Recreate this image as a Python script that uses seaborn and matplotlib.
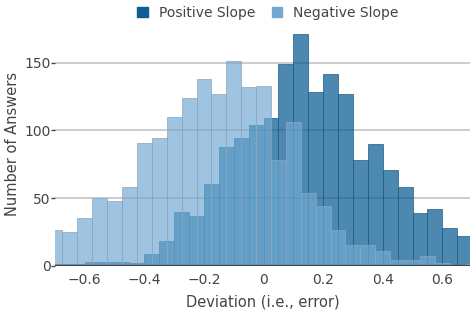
import matplotlib
matplotlib.use("Agg")
import matplotlib.pyplot as plt
from matplotlib.patches import Patch
import seaborn as sns
import numpy as np

# ── Data ──────────────────────────────────────────────────────────────────────
BIN_WIDTH = 0.05

# Positive slope: bins with edges at multiples of 0.05, from -0.70 to 0.70
pos_centers = np.round(np.arange(-0.675, 0.70, BIN_WIDTH), 3)
pos_counts = [1, 1, 3, 3, 3, 2, 9, 18, 40, 37, 60, 88, 94, 104,
              109, 149, 171, 128, 142, 127, 78, 90, 71, 58, 39, 42, 28, 22]

# Negative slope: bins centred on multiples of 0.05, from -0.70 to 0.70
neg_centers = np.round(np.arange(-0.70, 0.725, BIN_WIDTH), 3)
neg_counts = [26, 25, 35, 50, 48, 58, 91, 94, 110, 124, 138, 127, 151, 132,
              133, 78, 106, 54, 44, 26, 15, 15, 11, 4, 4, 7, 2, 0, 1]

series_names = ["Positive Slope", "Negative Slope"]
series_colors = ["#0e5e93", "#72a9d3"]

x_ticks = [-0.6, -0.4, -0.2, 0, 0.2, 0.4, 0.6]
x_tick_labels = ["\u22120.6", "\u22120.4", "\u22120.2", "0", "0.2", "0.4", "0.6"]
y_ticks = [0, 50, 100, 150]

# ── Style ─────────────────────────────────────────────────────────────────────
sns.set_theme(style="white")
plt.rcParams["font.family"] = ["DejaVu Sans"]
TEXT = "#444444"

fig = plt.figure(figsize=(4.7, 3.11), dpi=100)
ax = fig.add_axes([0.117, 0.1457, 0.883, 0.7833])
ax.set_axisbelow(True)
ax.yaxis.grid(True, color="#c4c4c4", linewidth=1.2)

sns.histplot(x=pos_centers, weights=pos_counts, binwidth=BIN_WIDTH,
             binrange=(-0.70, 0.70), color=series_colors[0], alpha=0.74,
             edgecolor="#1d5c86", linewidth=0.5, ax=ax)
sns.histplot(x=neg_centers, weights=neg_counts, binwidth=BIN_WIDTH,
             binrange=(-0.725, 0.725), color=series_colors[1], alpha=0.68,
             edgecolor="#8aa6bc", linewidth=0.5, ax=ax)

ax.axhline(0, color="#444444", linewidth=1.6, zorder=5)

ax.set_xlim(-0.70, 0.693)
ax.set_ylim(0, 180)
ax.set_xticks(x_ticks)
ax.set_xticklabels(x_tick_labels)
ax.set_yticks(y_ticks)
ax.tick_params(axis="x", length=0, pad=5, labelsize=10, colors=TEXT)
ax.tick_params(axis="y", length=3, width=1, direction="out", pad=0,
               labelsize=10, colors=TEXT, left=True)
for s in ax.spines.values():
    s.set_visible(False)

ax.set_xlabel("Deviation (i.e., error)", fontsize=10.5, color=TEXT, labelpad=6)
ax.set_ylabel("Number of Answers", fontsize=10.5, color=TEXT)
ax.yaxis.set_label_coords(-0.085, 0.5)

handles = [Patch(facecolor=c, edgecolor=c) for c in series_colors]
fig.legend(handles, series_names, loc="center", bbox_to_anchor=(0.57, 0.958),
           ncol=2, frameon=False, fontsize=10, handlelength=0.75,
           handleheight=0.75, handletextpad=0.8, columnspacing=1.2,
           labelcolor=TEXT)

fig.savefig("out.png", dpi=100)
plt.close(fig)
